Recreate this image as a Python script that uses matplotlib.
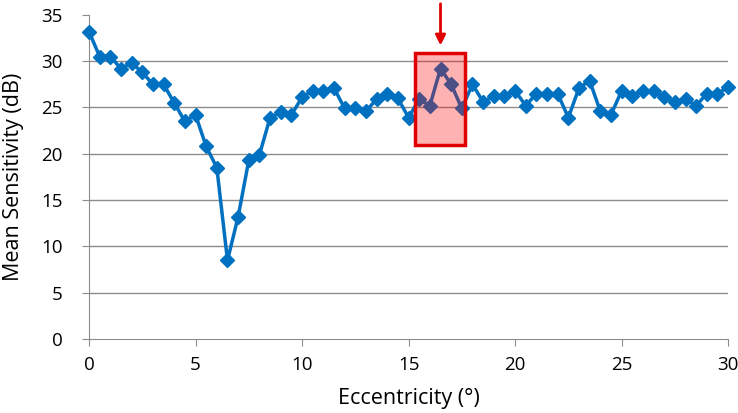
import matplotlib
matplotlib.use("Agg")
import matplotlib.pyplot as plt
from matplotlib.patches import Rectangle

ecc = [i * 0.5 for i in range(61)]
sens = [33.2, 30.5, 30.5, 29.2, 29.8, 28.8, 27.5, 27.5, 25.5, 23.5,
        24.2, 20.8, 18.5, 8.5, 13.2, 19.3, 19.9, 23.9, 24.5, 24.2,
        26.1, 26.8, 26.8, 27.1, 24.9, 24.9, 24.6, 25.9, 26.5, 26.0,
        23.9, 25.9, 25.2, 29.2, 27.5, 24.9, 27.5, 25.6, 26.2, 26.2,
        26.8, 25.2, 26.5, 26.5, 26.5, 23.9, 27.1, 27.9, 24.6, 24.2,
        26.8, 26.2, 26.8, 26.8, 26.1, 25.6, 25.9, 25.2, 26.5, 26.5,
        27.2]
xticks = [0, 5, 10, 15, 20, 25, 30]
yticks = [0, 5, 10, 15, 20, 25, 30, 35]
box_x = (15.3, 17.65)
box_y = (20.9, 30.9)
arrow_x = 16.5

plt.rcParams['font.family'] = ['Open Sans', 'DejaVu Sans']
fig = plt.figure(figsize=(7.38, 4.13), dpi=100)
ax = fig.add_axes([0.1206, 0.179, 0.866, 0.785])

for y in yticks[1:-1]:
    ax.axhline(y, color='#8c8c8c', lw=1.0, zorder=1)

ax.plot(ecc, sens, color='#0070C0', lw=2.5, marker='D', markersize=7,
        zorder=3, clip_on=False)

ax.add_patch(Rectangle((box_x[0], box_y[0]), box_x[1] - box_x[0], box_y[1] - box_y[0],
                       facecolor=(1, 0, 0, 0.3), edgecolor='#e00000', lw=2.5, zorder=4))
ax.annotate('', xy=(arrow_x, box_y[1] + 0.5), xytext=(arrow_x, 36.5),
            arrowprops=dict(arrowstyle='-|>', color='#e00000', lw=2,
                            mutation_scale=15),
            annotation_clip=False, zorder=5)

ax.set_xlim(0, 30)
ax.set_ylim(0, 35)
ax.set_xticks(xticks)
ax.set_yticks(yticks)
for s in ['top', 'right']:
    ax.spines[s].set_visible(False)
for s in ['left', 'bottom']:
    ax.spines[s].set_color('#8c8c8c')
ax.tick_params(axis='both', colors='#8c8c8c', labelcolor='black', labelsize=13.5,
               length=5)
ax.tick_params(axis='x', pad=7)
ax.tick_params(axis='y', pad=14)
ax.set_xlabel('Eccentricity (°)', fontsize=15.5, labelpad=10)
ax.set_ylabel('Mean Sensitivity (dB)', fontsize=15.5, labelpad=12)

fig.savefig('out.png', dpi=100)
